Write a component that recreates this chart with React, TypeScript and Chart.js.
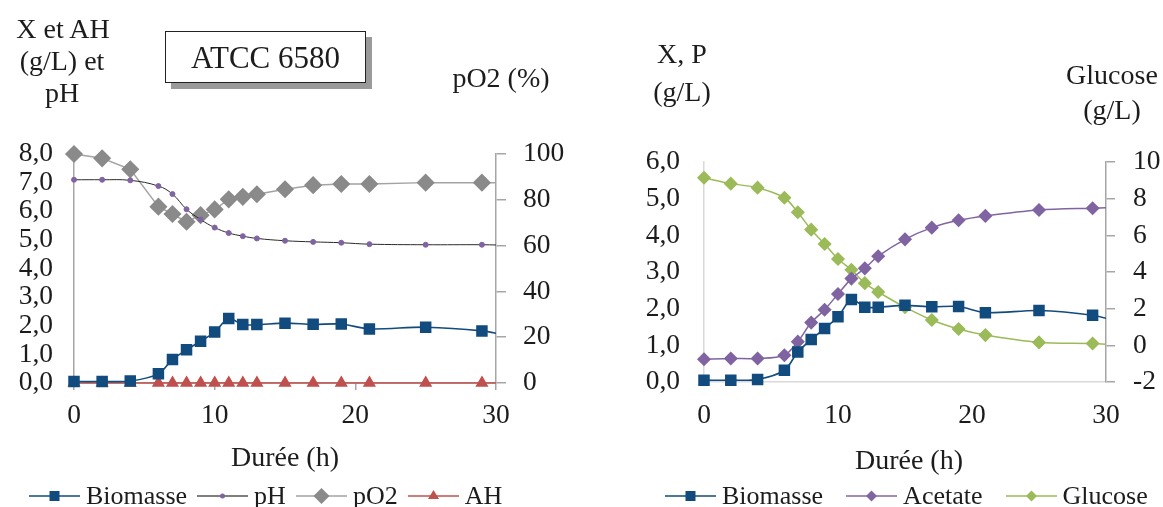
import React, { useEffect, useRef } from 'react';
import { Chart, registerables } from 'chart.js';
Chart.register(...registerables);

const FONT = '"Liberation Serif", "Times New Roman", serif';
const TEXT = '#1c1c1c';

// Sampling times (h); the last sample lies just past the 30 h axis end
const timeH = [0, 2, 4, 6, 7, 8, 9, 10, 11, 12, 13, 15, 17, 19, 21, 25, 29, 31];
const biomasse = [0.05, 0.05, 0.07, 0.32, 0.82, 1.16, 1.46, 1.78, 2.25, 2.04, 2.04, 2.09, 2.05, 2.06, 1.89, 1.95, 1.82, 1.64];
const pH = [7.1, 7.1, 7.08, 6.88, 6.6, 6.07, 5.71, 5.43, 5.24, 5.13, 5.05, 4.97, 4.93, 4.9, 4.85, 4.83, 4.83, 4.81];
const pO2 = [100, 98.1, 93.3, 77, 73.8, 70.4, 73.3, 75.8, 80.2, 81.3, 82.4, 84.6, 86.4, 86.9, 86.9, 87.5, 87.5, 87.3];
const AH = [0, 0, 0, 0, 0, 0, 0, 0, 0, 0, 0, 0, 0, 0, 0, 0, 0, 0];
const acetate = [0.62, 0.64, 0.64, 0.73, 1.1, 1.62, 1.97, 2.4, 2.82, 3.1, 3.43, 3.89, 4.21, 4.41, 4.53, 4.69, 4.74, 4.76];
const glucose = [9.14, 8.82, 8.6, 8.05, 7.26, 6.31, 5.53, 4.71, 4.12, 3.39, 2.91, 2.08, 1.38, 0.89, 0.56, 0.16, 0.1, 0.0];

const xAxisRange = { min: 0, max: 30, step: 10 };
const yLeftA = { min: 0, max: 8, step: 1 };
const yRightA = { min: 0, max: 100, step: 20 };
const yLeftB = { min: 0, max: 6, step: 1 };
const yRightB = { min: -2, max: 10, step: 2 };

const BLUE = '#124B7E';
const GREY_MK = '#8A8A8A';
const GREY_LN = '#A3A3A3';
const RED = '#C0504D';
const PURPLE = '#8064A2';
const GREEN = '#9BBB59';
const AXIS = '#A6A6A6';
const AXIS_LIGHT = '#D9D9D9';

const tickFont = { family: FONT, size: 27.5, lineHeight: 1 };
const comma = (v: any) => Number(v).toFixed(1).replace('.', ',');
const pts = (ys: number[]) => timeH.map((t, i) => ({ x: t, y: ys[i] }));
const clip = { left: false, top: false, right: 0, bottom: false } as any;

function leftConfig(): any {
  return {
    type: 'line',
    data: {
      datasets: [
        { label: 'Biomasse', data: pts(biomasse), yAxisID: 'y', borderColor: BLUE, backgroundColor: BLUE, pointBackgroundColor: BLUE, pointBorderColor: BLUE, pointStyle: 'rect', pointRadius: 7, borderWidth: 1.6, tension: 0.3, clip },
        { label: 'pH', data: pts(pH), yAxisID: 'y', borderColor: '#2a2a2a', pointBackgroundColor: PURPLE, pointBorderColor: PURPLE, pointStyle: 'circle', pointRadius: 2.5, borderWidth: 1, tension: 0.4, clip },
        { label: 'pO2', data: pts(pO2), yAxisID: 'y1', borderColor: GREY_LN, pointBackgroundColor: GREY_MK, pointBorderColor: GREY_MK, pointStyle: 'rectRot', pointRadius: 8, borderWidth: 1.5, tension: 0, clip },
        { label: 'AH', data: pts(AH), yAxisID: 'y', borderColor: RED, pointBackgroundColor: RED, pointBorderColor: RED, pointStyle: 'triangle', pointRadius: 6, borderWidth: 1.6, tension: 0, clip },
      ],
    },
    options: {
      animation: false,
      responsive: false,
      maintainAspectRatio: false,
      layout: { padding: { top: 154, left: 0, right: 0, bottom: 0 } },
      plugins: { legend: { display: false }, tooltip: { enabled: false } },
      scales: {
        x: {
          type: 'linear', min: xAxisRange.min, max: xAxisRange.max,
          ticks: { stepSize: xAxisRange.step, font: tickFont, color: TEXT, padding: 12, autoSkip: false, maxRotation: 0 },
          grid: { display: true, drawOnChartArea: false, drawTicks: true, tickLength: 7, color: AXIS, lineWidth: 1.5 },
          border: { display: true, color: AXIS, width: 1.5 },
          afterFit: (s: any) => { s.height = 124; },
        },
        y: {
          position: 'left', min: yLeftA.min, max: yLeftA.max,
          ticks: { stepSize: yLeftA.step, font: tickFont, color: TEXT, padding: 21, autoSkip: false, callback: comma },
          grid: { display: false, drawTicks: false },
          border: { display: true, color: AXIS, width: 1.5 },
          afterFit: (s: any) => { s.width = 74; },
        },
        y1: {
          position: 'right', min: yRightA.min, max: yRightA.max,
          ticks: { stepSize: yRightA.step, font: tickFont, color: TEXT, padding: 17, autoSkip: false },
          grid: { display: true, drawOnChartArea: false, drawTicks: true, tickLength: 10, color: AXIS, lineWidth: 1.5 },
          border: { display: true, color: AXIS, width: 1.5 },
          afterFit: (s: any) => { s.width = 84; },
        },
      },
    },
  };
}

function rightConfig(): any {
  return {
    type: 'line',
    data: {
      datasets: [
        { label: 'Biomasse', data: pts(biomasse), yAxisID: 'y', borderColor: BLUE, pointBackgroundColor: BLUE, pointBorderColor: BLUE, pointStyle: 'rect', pointRadius: 7, borderWidth: 1.6, tension: 0.3, clip },
        { label: 'Acetate', data: pts(acetate), yAxisID: 'y', borderColor: PURPLE, pointBackgroundColor: PURPLE, pointBorderColor: PURPLE, pointStyle: 'rectRot', pointRadius: 6, borderWidth: 1.5, tension: 0.3, clip },
        { label: 'Glucose', data: pts(glucose), yAxisID: 'y1', borderColor: GREEN, pointBackgroundColor: GREEN, pointBorderColor: GREEN, pointStyle: 'rectRot', pointRadius: 6, borderWidth: 1.5, tension: 0.3, clip },
      ],
    },
    options: {
      animation: false,
      responsive: false,
      maintainAspectRatio: false,
      layout: { padding: { top: 162, left: 0, right: 0, bottom: 0 } },
      plugins: { legend: { display: false }, tooltip: { enabled: false } },
      scales: {
        x: {
          type: 'linear', min: xAxisRange.min, max: xAxisRange.max,
          ticks: { stepSize: xAxisRange.step, font: tickFont, color: TEXT, padding: 20, autoSkip: false, maxRotation: 0 },
          grid: { display: false, drawTicks: false },
          border: { display: true, color: AXIS_LIGHT, width: 1.5 },
          afterFit: (s: any) => { s.height = 125; },
        },
        y: {
          position: 'left', min: yLeftB.min, max: yLeftB.max,
          ticks: { stepSize: yLeftB.step, font: tickFont, color: TEXT, padding: 24, autoSkip: false, callback: comma },
          grid: { display: false, drawTicks: false },
          border: { display: true, color: AXIS_LIGHT, width: 1.5 },
          afterFit: (s: any) => { s.width = 104; },
        },
        y1: {
          position: 'right', min: yRightB.min, max: yRightB.max,
          ticks: { stepSize: yRightB.step, font: tickFont, color: TEXT, padding: 18, autoSkip: false, callback: (v: any) => String(v) },
          grid: { display: true, drawOnChartArea: false, drawTicks: true, tickLength: 9, color: AXIS, lineWidth: 1.5 },
          border: { display: true, color: AXIS, width: 1.5 },
          afterFit: (s: any) => { s.width = 57; },
        },
      },
    },
  };
}

function ChartCanvas({ left, width, config }: { left: number; width: number; config: () => any }) {
  const ref = useRef<HTMLCanvasElement | null>(null);
  useEffect(() => {
    if (!ref.current) return;
    const chart = new Chart(ref.current, config());
    return () => chart.destroy();
  }, []);
  return (
    <canvas ref={ref} width={width} height={507}
      style={{ position: 'absolute', left, top: 0, width, height: 507 }} />
  );
}

function Label({ x, y, text, size = 28 }: { x: number; y: number; text: string; size?: number }) {
  return (
    <div style={{ position: 'absolute', left: x, top: y, transform: 'translate(-50%, -50%)', fontSize: size, lineHeight: 1, whiteSpace: 'nowrap', color: TEXT }}>
      {text}
    </div>
  );
}

type Mk = 'square' | 'dot' | 'diamond' | 'smalldiamond' | 'triangle';
function Marker({ kind, line, fill }: { kind: Mk; line: string; fill: string }) {
  let shape: any = null;
  if (kind === 'square') shape = <rect x={20.5} y={5} width={10} height={10} fill={fill} />;
  if (kind === 'dot') shape = <circle cx={25.5} cy={10} r={2.5} fill={fill} />;
  if (kind === 'diamond') shape = <polygon points="25.5,2 33.5,10 25.5,18 17.5,10" fill={fill} />;
  if (kind === 'smalldiamond') shape = <polygon points="25.5,4.5 31,10 25.5,15.5 20,10" fill={fill} />;
  if (kind === 'triangle') shape = <polygon points="25.5,4 31,13 20,13" fill={fill} />;
  return (
    <svg width={51} height={20} style={{ display: 'block' }}>
      <line x1={0} y1={10} x2={51} y2={10} stroke={line} strokeWidth={1.6} />
      {shape}
    </svg>
  );
}

function Legend({ left, gap, items }: { left: number; gap: number; items: { name: string; kind: Mk; line: string; fill: string }[] }) {
  return (
    <div style={{ position: 'absolute', left, top: 481, height: 30, display: 'flex', alignItems: 'center', fontSize: 26, lineHeight: 1, color: TEXT, whiteSpace: 'nowrap' }}>
      {items.map((it, i) => (
        <div key={it.name} style={{ display: 'flex', alignItems: 'center', marginLeft: i === 0 ? 0 : gap }}>
          <Marker kind={it.kind} line={it.line} fill={it.fill} />
          <span style={{ marginLeft: 6 }}>{it.name}</span>
        </div>
      ))}
    </div>
  );
}

export default function App() {
  return (
    <div style={{ position: 'absolute', left: 0, top: 0, width: 1163, height: 507, overflow: 'hidden', background: '#fff', fontFamily: FONT }}>
      <ChartCanvas left={0} width={580} config={leftConfig} />
      <ChartCanvas left={600} width={563} config={rightConfig} />

      <Label x={63} y={29} text="X et AH" />
      <Label x={62} y={61} text="(g/L) et" />
      <Label x={62} y={93} text="pH" />
      <div style={{ position: 'absolute', left: 165, top: 31, width: 201, height: 52, boxSizing: 'border-box', border: '1.5px solid #222', background: '#fff', boxShadow: '6px 6px 0 #9A9A9A', display: 'flex', alignItems: 'center', justifyContent: 'center', fontSize: 31, lineHeight: 1, color: TEXT }}>
        ATCC 6580
      </div>
      <Label x={501} y={78} text="pO2 (%)" />
      <Label x={285} y={457} text="Durée (h)" />

      <Label x={682} y={54} text="X, P" />
      <Label x={682} y={92} text="(g/L)" />
      <Label x={1112} y={75} text="Glucose" />
      <Label x={1112} y={110} text="(g/L)" />
      <Label x={909} y={460} text="Durée (h)" />

      <Legend left={29} gap={10} items={[
        { name: 'Biomasse', kind: 'square', line: BLUE, fill: BLUE },
        { name: 'pH', kind: 'dot', line: '#555', fill: PURPLE },
        { name: 'pO2', kind: 'diamond', line: GREY_LN, fill: GREY_MK },
        { name: 'AH', kind: 'triangle', line: RED, fill: RED },
      ]} />
      <Legend left={665} gap={23} items={[
        { name: 'Biomasse', kind: 'square', line: BLUE, fill: BLUE },
        { name: 'Acetate', kind: 'smalldiamond', line: PURPLE, fill: PURPLE },
        { name: 'Glucose', kind: 'smalldiamond', line: GREEN, fill: GREEN },
      ]} />
    </div>
  );
}
